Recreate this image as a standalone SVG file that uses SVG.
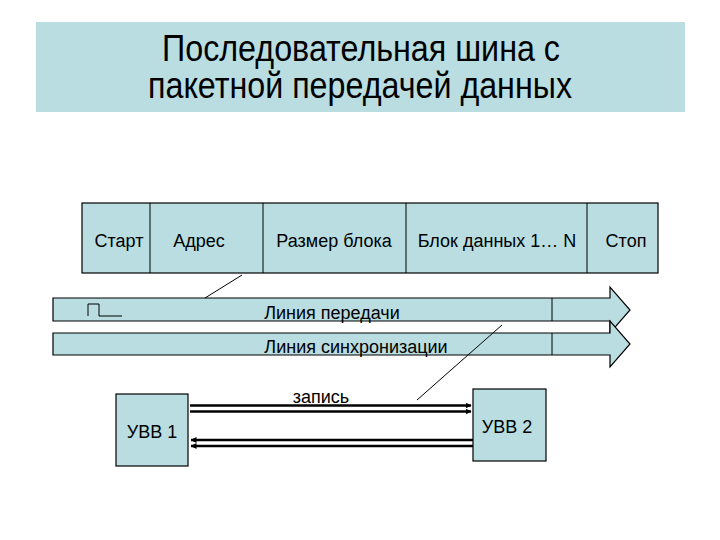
<svg xmlns="http://www.w3.org/2000/svg" width="720" height="540" viewBox="0 0 720 540">
<style>
.box{fill:#B9DDE0;stroke:#000;stroke-width:1.2}
.t{font-family:"Liberation Sans",Arial,sans-serif;font-size:18px;fill:#000;text-anchor:middle}
.ttl{font-family:"Liberation Sans",Arial,sans-serif;font-size:36px;fill:#000;text-anchor:middle}
.thin{stroke:#000;stroke-width:1;fill:none}
.wire{stroke:#000;stroke-width:2.4;fill:none}
</style>
<defs>
<marker id="ah" viewBox="0 0 6 6" refX="5.5" refY="3" markerWidth="6" markerHeight="6" markerUnits="userSpaceOnUse" orient="auto">
<path d="M0,0 L6,3 L0,6 z" fill="#000"/>
</marker>
</defs>
<rect width="720" height="540" fill="#fff"/>
<g id="title">
<rect x="36" y="22" width="649" height="90" fill="#B9DDE0"/>
<text class="ttl" x="361" y="61" textLength="398" lengthAdjust="spacingAndGlyphs">Последовательная шина с</text>
<text class="ttl" x="360" y="98" textLength="424" lengthAdjust="spacingAndGlyphs">пакетной передачей данных</text>
</g>
<g id="packet">
<rect class="box" x="82" y="203" width="576" height="70"/>
<line class="thin" x1="150" y1="203" x2="150" y2="273"/>
<line class="thin" x1="263" y1="203" x2="263" y2="273"/>
<line class="thin" x1="406" y1="203" x2="406" y2="273"/>
<line class="thin" x1="587" y1="203" x2="587" y2="273"/>
<text class="t" x="119" y="247">Старт</text>
<text class="t" x="199" y="247">Адрес</text>
<text class="t" x="334" y="247">Размер блока</text>
<text class="t" x="497" y="247">Блок данных 1… N</text>
<text class="t" x="626" y="247">Стоп</text>
</g>
<g id="tx-line">
<polygon class="box" points="53,298 610,298 610,287 630,310 610,333 610,321 53,321"/>
<line class="thin" x1="552" y1="298" x2="552" y2="321"/>
<path class="thin" d="M88,316 V304 H99 V316 H122"/>
<text class="t" x="332" y="319">Линия передачи</text>
</g>
<g id="sync-line">
<polygon class="box" points="53,333 610,333 610,321 630,344 610,367 610,355 53,355"/>
<line class="thin" x1="552" y1="333" x2="552" y2="355"/>
<text class="t" x="356" y="353">Линия синхронизации</text>
</g>
<g id="uvv1">
<rect class="box" x="116" y="394" width="72" height="72"/>
<text class="t" x="152" y="438">УВВ 1</text>
</g>
<g id="uvv2">
<rect class="box" x="473" y="389" width="73" height="72"/>
<text class="t" x="507" y="433">УВВ 2</text>
</g>
<g id="connectors">
<line class="thin" x1="205" y1="298" x2="242" y2="275"/>
<line class="thin" x1="502" y1="325" x2="417" y2="400"/>
<line class="wire" x1="190" y1="405.5" x2="471" y2="405.5" marker-end="url(#ah)"/>
<line class="wire" x1="190" y1="411.5" x2="471" y2="411.5" marker-end="url(#ah)"/>
<line class="wire" x1="473" y1="440" x2="191" y2="440" marker-end="url(#ah)"/>
<line class="wire" x1="473" y1="446" x2="191" y2="446" marker-end="url(#ah)"/>
<text class="t" x="321" y="403">запись</text>
</g>
</svg>
